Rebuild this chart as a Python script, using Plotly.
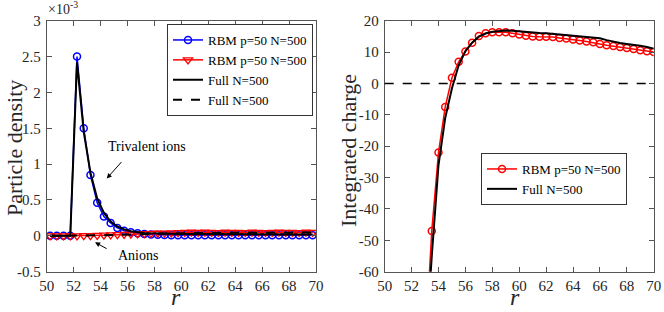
import plotly.graph_objects as go

# ---------------- data ----------------
# left panel: particle density (units of 1e-3)
r_density = [50.25, 50.75, 51.25, 51.75, 52.25, 52.75, 53.25, 53.75, 54.25, 54.75,
             55.25, 55.75, 56.25, 56.75, 57.25, 57.75, 58.25, 58.75, 59.25, 59.75,
             60.25, 60.75, 61.25, 61.75, 62.25, 62.75, 63.25, 63.75, 64.25, 64.75,
             65.25, 65.75, 66.25, 66.75, 67.25, 67.75, 68.25, 68.75, 69.25, 69.75]
rbm_cation = [0, 0, 0, 0, 2.5, 1.5, 0.85, 0.46, 0.27, 0.18,
              0.11, 0.07, 0.05, 0.035, 0.025, 0.018, 0.014, 0.012, 0.01, 0.01,
              0.008, 0.01, 0.009, 0.008, 0.01, 0.009, 0.008, 0.01, 0.009, 0.008,
              0.01, 0.009, 0.008, 0.01, 0.009, 0.008, 0.01, 0.009, 0.008, 0.009]
rbm_anion = [0, 0, 0, 0, 0, 0.002, 0.004, 0.007, 0.01, 0.013,
             0.017, 0.02, 0.024, 0.027, 0.03, 0.033, 0.036, 0.039, 0.042, 0.045,
             0.048, 0.05, 0.047, 0.05, 0.048, 0.046, 0.05, 0.047, 0.049, 0.046,
             0.05, 0.048, 0.046, 0.049, 0.05, 0.047, 0.048, 0.046, 0.05, 0.048]
full_cation = [0, 0, 0, 0, 2.42, 1.45, 0.88, 0.52, 0.32, 0.2,
               0.13, 0.09, 0.065, 0.05, 0.04, 0.035, 0.03, 0.028, 0.026, 0.025,
               0.024, 0.024, 0.023, 0.023, 0.022, 0.022, 0.022, 0.021, 0.021, 0.021,
               0.02, 0.02, 0.02, 0.02, 0.02, 0.02, 0.02, 0.02, 0.02, 0.02]
full_anion = [0, 0, 0, 0, 0, 0.001, 0.003, 0.006, 0.009, 0.012,
              0.015, 0.018, 0.021, 0.024, 0.027, 0.03, 0.032, 0.034, 0.036, 0.038,
              0.039, 0.04, 0.04, 0.041, 0.041, 0.042, 0.042, 0.042, 0.043, 0.043,
              0.043, 0.043, 0.044, 0.044, 0.044, 0.044, 0.044, 0.045, 0.045, 0.045]

# right panel: integrated charge
r_charge = [53.0, 53.5, 54.0, 54.5, 55.0, 55.5, 56.0, 56.5, 57.0, 57.5,
            58.0, 58.5, 59.0, 59.5, 60.0, 60.5, 61.0, 61.5, 62.0, 62.5,
            63.0, 63.5, 64.0, 64.5, 65.0, 65.5, 66.0, 66.5, 67.0, 67.5,
            68.0, 68.5, 69.0, 69.5, 70.0]
rbm_charge = [-85, -47, -22, -7.5, 1.8, 6.9, 10.2, 13.0, 15.1, 16.0,
              16.3, 16.3, 16.3, 16.0, 15.6, 15.2, 15.0, 14.9, 14.9, 14.8,
              14.5, 14.3, 14.0, 13.7, 13.4, 13.1, 12.6, 12.2, 11.9, 11.6,
              11.3, 11.0, 10.6, 10.3, 10.0]
full_charge = [-88, -55, -26, -11, -1.5, 5.8, 10.3, 13.0, 14.9, 15.9,
               16.5, 16.8, 16.9, 16.8, 16.6, 16.3, 16.2, 16.1, 16.0, 15.8,
               15.6, 15.4, 15.3, 15.1, 15.0, 14.8, 14.4, 13.8, 13.3, 12.9,
               12.6, 12.4, 12.0, 11.6, 11.1]
zero_level = 0

x_ticks = [50, 52, 54, 56, 58, 60, 62, 64, 66, 68, 70]
y1_ticks = [-0.5, 0, 0.5, 1, 1.5, 2, 2.5, 3]
y1_text = ["-0.5", "0", "0.5", "1", "1.5", "2", "2.5", "3"]
y2_ticks = [-60, -50, -40, -30, -20, -10, 0, 10, 20]
y2_text = ["-60", "-50", "-40", "-30", "-20", "-10", "0", "10", "20"]

# ---------------- figure ----------------
W, H = 664, 312
FONT = "Liberation Serif, Times New Roman, serif"
TXT = "#262626"
AX = "#555555"

def px_x(p):
    return p / W

def px_y(p):
    return 1 - p / H

fig = go.Figure()

fig.add_trace(go.Scatter(x=r_density, y=rbm_cation, mode="lines+markers",
                         name="RBM p=50 N=500", legend="legend",
                         line=dict(color="#0000FF", width=1.5),
                         marker=dict(symbol="circle-open", size=7, color="#0000FF",
                                     line=dict(width=1.5)),
                         xaxis="x", yaxis="y"))
fig.add_trace(go.Scatter(x=r_density, y=rbm_anion, mode="lines+markers",
                         name="RBM p=50 N=500", legend="legend",
                         line=dict(color="#FF0000", width=1.5),
                         marker=dict(symbol="triangle-down-open", size=8, color="#FF0000",
                                     line=dict(width=1.3)),
                         xaxis="x", yaxis="y"))
fig.add_trace(go.Scatter(x=r_density, y=full_cation, mode="lines",
                         name="Full N=500", legend="legend",
                         line=dict(color="black", width=2),
                         xaxis="x", yaxis="y"))
fig.add_trace(go.Scatter(x=r_density, y=full_anion, mode="lines",
                         name="Full N=500", legend="legend",
                         line=dict(color="black", width=2, dash="dash"),
                         xaxis="x", yaxis="y"))

fig.add_trace(go.Scatter(x=r_charge, y=rbm_charge, mode="lines+markers",
                         name="RBM p=50 N=500", legend="legend2",
                         line=dict(color="#FF0000", width=1.5),
                         marker=dict(symbol="circle-open", size=7, color="#FF0000",
                                     line=dict(width=1.5)),
                         xaxis="x2", yaxis="y2"))
fig.add_trace(go.Scatter(x=r_charge, y=full_charge, mode="lines",
                         name="Full N=500", legend="legend2",
                         line=dict(color="black", width=2),
                         xaxis="x2", yaxis="y2"))

fig.add_shape(type="line", xref="x2 domain", x0=0, x1=1, yref="y2",
              y0=zero_level, y1=zero_level,
              line=dict(color="black", width=1.5, dash="dash"))

axis_common = dict(showline=True, linecolor=AX, linewidth=1, mirror="ticks",
                   ticks="inside", ticklen=5, tickcolor=AX, tickwidth=1,
                   showgrid=False, zeroline=False, automargin=False,
                   tickfont=dict(family=FONT, size=15, color=TXT))

ydom = [px_y(271.7), px_y(20.7)]
fig.update_layout(
    width=W, height=H, margin=dict(l=0, r=0, t=0, b=0, autoexpand=False),
    paper_bgcolor="white", plot_bgcolor="white", showlegend=True,
    xaxis=dict(domain=[px_x(46.7), px_x(316)], range=[50, 70],
               tickvals=x_ticks, anchor="y", **axis_common),
    yaxis=dict(domain=ydom, range=[-0.5, 3], tickvals=y1_ticks, ticktext=y1_text,
               anchor="x", ticklabelstandoff=2, **axis_common),
    xaxis2=dict(domain=[px_x(384.7), px_x(653.7)], range=[50, 70],
                tickvals=x_ticks, anchor="y2", **axis_common),
    yaxis2=dict(domain=ydom, range=[-60, 20], tickvals=y2_ticks, ticktext=y2_text,
                anchor="x2", ticklabelstandoff=2, **axis_common),
    legend=dict(x=px_x(313), xanchor="right", y=px_y(24), yanchor="top",
                bgcolor="white", bordercolor="#333333", borderwidth=1,
                font=dict(family=FONT, size=13, color="black"),
                itemwidth=30, tracegroupgap=0),
    legend2=dict(x=px_x(627), xanchor="right", y=px_y(153), yanchor="top",
                 bgcolor="white", bordercolor="#333333", borderwidth=1,
                 font=dict(family=FONT, size=13, color="black"),
                 itemwidth=30, tracegroupgap=0),
)

annotations = [
    dict(text="×10<sup>-3</sup>", xref="paper", yref="paper", x=px_x(46), y=px_y(19),
         xanchor="left", yanchor="bottom", showarrow=False,
         font=dict(family=FONT, size=14, color=TXT)),
    dict(text="Particle density", xref="paper", yref="paper", x=px_x(14), y=px_y(148),
         textangle=-90, showarrow=False, xanchor="center", yanchor="middle",
         font=dict(family=FONT, size=22, color=TXT)),
    dict(text="Integrated charge", xref="paper", yref="paper", x=px_x(348), y=px_y(151),
         textangle=-90, showarrow=False, xanchor="center", yanchor="middle",
         font=dict(family=FONT, size=22, color=TXT)),
    dict(text="<i>r</i>", xref="paper", yref="paper", x=px_x(176), y=0,
         showarrow=False, xanchor="center", yanchor="bottom",
         font=dict(family=FONT, size=24, color=TXT)),
    dict(text="<i>r</i>", xref="paper", yref="paper", x=px_x(515), y=0,
         showarrow=False, xanchor="center", yanchor="bottom",
         font=dict(family=FONT, size=24, color=TXT)),
    dict(text="Trivalent ions", xref="x", yref="y", x=54.4, y=1.25,
         xanchor="left", yanchor="middle", showarrow=False,
         font=dict(family=FONT, size=14, color="black")),
    dict(text="", xref="x", yref="y", x=54.46, y=0.80, ax=55.65, ay=1.05,
         axref="x", ayref="y", showarrow=True, arrowhead=2, arrowsize=1,
         arrowwidth=1, arrowcolor="black", standoff=0),
    dict(text="Anions", xref="x", yref="y", x=55.15, y=-0.27,
         xanchor="left", yanchor="middle", showarrow=False,
         font=dict(family=FONT, size=14, color="black")),
    dict(text="", xref="x", yref="y", x=53.59, y=-0.09, ax=54.56, ay=-0.19,
         axref="x", ayref="y", showarrow=True, arrowhead=2, arrowsize=1,
         arrowwidth=1, arrowcolor="black", standoff=0),
]
fig.update_layout(annotations=annotations)

fig.write_html("out.html", config={"displayModeBar": False},
               post_script="document.body.style.margin='0';document.body.style.padding='0';")
